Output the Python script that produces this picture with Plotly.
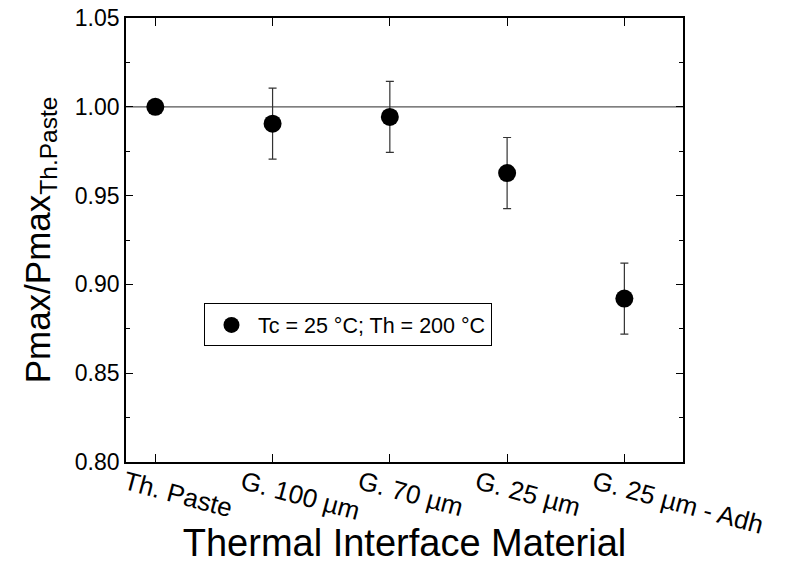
import plotly.graph_objects as go

# Thermal interface materials and normalised maximum power
materials = ["Th. Paste", "G. 100 µm", "G. 70 µm", "G. 25 µm", "G. 25 µm - Adh"]
pmax_ratio = [1.000, 0.9905, 0.9943, 0.9627, 0.892]
pmax_err = [0.0, 0.020, 0.020, 0.020, 0.020]
series_name = "Tc = 25 °C; Th = 200 °C"

y_ticks = [0.80, 0.85, 0.90, 0.95, 1.00, 1.05]
reference_level = 1.00

FONT = "Liberation Sans, Arial, sans-serif"

fig = go.Figure()

fig.add_trace(
    go.Scatter(
        x=materials,
        y=pmax_ratio,
        mode="markers",
        name=series_name,
        marker=dict(symbol="circle", size=18, color="black"),
        error_y=dict(
            type="data",
            array=pmax_err,
            visible=True,
            color="#333333",
            thickness=1.2,
            width=4,
        ),
    )
)

# Reference line at the thermal-paste level
fig.add_shape(
    type="line",
    xref="paper",
    x0=0,
    x1=1,
    yref="y",
    y0=reference_level,
    y1=reference_level,
    line=dict(color="#555555", width=1.3),
    layer="below",
)

fig.update_layout(
    width=791,
    height=564,
    margin=dict(l=126, r=108, t=18, b=102),
    paper_bgcolor="white",
    plot_bgcolor="white",
    font=dict(family=FONT, color="black"),
    showlegend=True,
    legend=dict(
        x=0.14,
        y=0.357,
        xanchor="left",
        yanchor="top",
        bordercolor="black",
        borderwidth=1,
        bgcolor="white",
        font=dict(family=FONT, size=21.5, color="black"),
        itemwidth=43,
        tracegroupgap=0,
    ),
)

fig.update_xaxes(
    type="category",
    categoryorder="array",
    categoryarray=materials,
    range=[-0.25, 4.5],
    automargin=False,
    showline=True,
    linecolor="black",
    linewidth=1.6,
    mirror="allticks",
    ticks="inside",
    ticklen=8,
    tickwidth=1.3,
    tickcolor="black",
    tickangle=15,
    ticklabelshift=-30,
    ticklabelstandoff=-6,
    tickfont=dict(family=FONT, size=26),
    showgrid=False,
    zeroline=False,
    title=dict(
        text="Thermal Interface Material",
        font=dict(family=FONT, size=38),
        standoff=8,
    ),
)

fig.update_yaxes(
    range=[0.80, 1.05],
    tickvals=y_ticks,
    ticktext=[f"{v:.2f}" for v in y_ticks],
    automargin=False,
    showline=True,
    linecolor="black",
    linewidth=1.6,
    mirror="allticks",
    ticks="inside",
    ticklen=7,
    tickwidth=1.3,
    tickcolor="black",
    tickfont=dict(family=FONT, size=23),
    minor=dict(dtick=0.025, ticks="inside", ticklen=4, tickwidth=1.3, tickcolor="black"),
    showgrid=False,
    zeroline=False,
    title=dict(
        text="Pmax/Pmax<sub>Th.Paste</sub>",
        font=dict(family=FONT, size=35),
        standoff=14,
    ),
)

fig.write_html("out.html")
